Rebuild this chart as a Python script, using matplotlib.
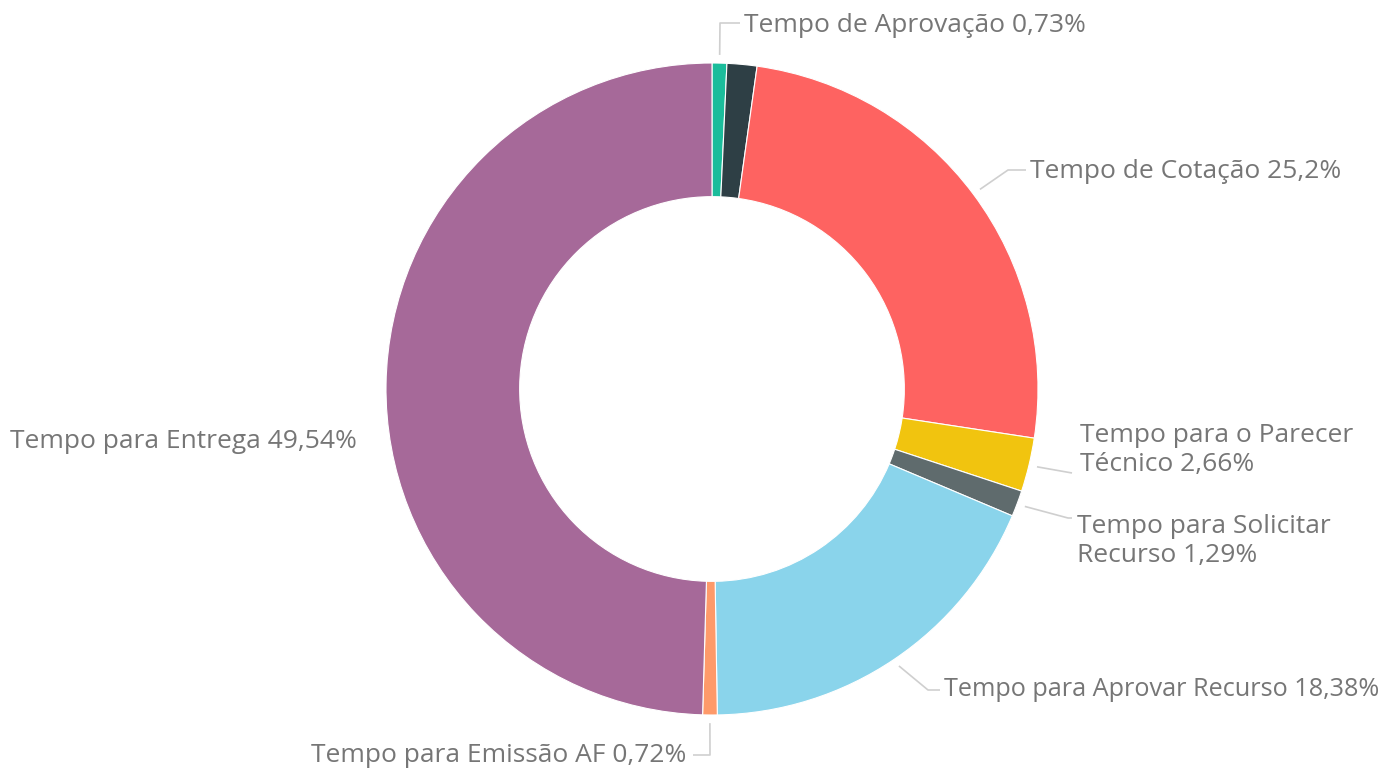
import numpy as np
import matplotlib.pyplot as plt

# slice data, clockwise from 12 o'clock
labels = ["Tempo de Aprovação 0,73%", "", "Tempo de Cotação 25,2%",
          "Tempo para o Parecer\nTécnico 2,66%", "Tempo para Solicitar\nRecurso 1,29%",
          "Tempo para Aprovar Recurso 18,38%", "Tempo para Emissão AF 0,72%",
          "Tempo para Entrega 49,54%"]
values = [0.73, 1.48, 25.2, 2.66, 1.29, 18.38, 0.72, 49.54]
colors = ["#1bbc9b", "#2e3f45", "#fe6361", "#f1c40f", "#5f6b6d",
          "#8ad4eb", "#fe9a6a", "#a66999"]

W, H = 1398, 769
cx, cy, R = 712, 389, 326   # pixel centre / outer radius

fig = plt.figure(figsize=(W / 100, H / 100), dpi=100)
ax = fig.add_axes([0, 0, 1, 1])

wedges, _ = ax.pie(values, colors=colors, startangle=90, counterclock=False,
                   radius=1.0, wedgeprops=dict(width=0.41, edgecolor="white", linewidth=0.8))

# pie() resets the limits, so set them afterwards
ax.set_aspect("auto")
ax.set_xlim(-cx / R, (W - cx) / R)
ax.set_ylim((cy - H) / R, cy / R)
ax.axis("off")

def px(x, y):
    return (x - cx) / R, (cy - y) / R

# label layout: (elbow pixel, end pixel, text pixel, ha, fontsize)
layout = {
    0: ((720, 23), (740, 23), (744, 25), "left", 19),
    2: ((1008, 170), (1026, 170), (1030, 172), "left", 19),
    3: ((1072, 473), (1072, 473), (1080, 450), "left", 19),
    4: ((1068, 518), (1072, 518), (1077, 541), "left", 19),
    5: ((928, 690), (940, 690), (944, 690), "left", 18.2),
    6: ((710, 755), (693, 755), (686, 755), "right", 19),
    7: (None, None, (10, 441), "left", 19),
}

tcol = "#767676"
lcol = "#cfcfcf"
for i, w in enumerate(wedges):
    if i not in layout:
        continue
    elbow, end, tpos, ha, fs = layout[i]
    ang = np.deg2rad((w.theta1 + w.theta2) / 2)
    if elbow is not None:
        r0 = 1.025
        x0, y0 = r0 * np.cos(ang), r0 * np.sin(ang)
        ex, ey = px(*elbow)
        nx, ny = px(*end)
        ax.plot([x0, ex, nx], [y0, ey, ny], color=lcol, lw=1.2, solid_capstyle="butt")
    tx, ty = px(*tpos)
    ax.text(tx, ty, labels[i], ha=ha, va="center", color=tcol, fontsize=fs,
            family="Open Sans", linespacing=1.2)

fig.savefig("out.png", dpi=100, facecolor="white")
